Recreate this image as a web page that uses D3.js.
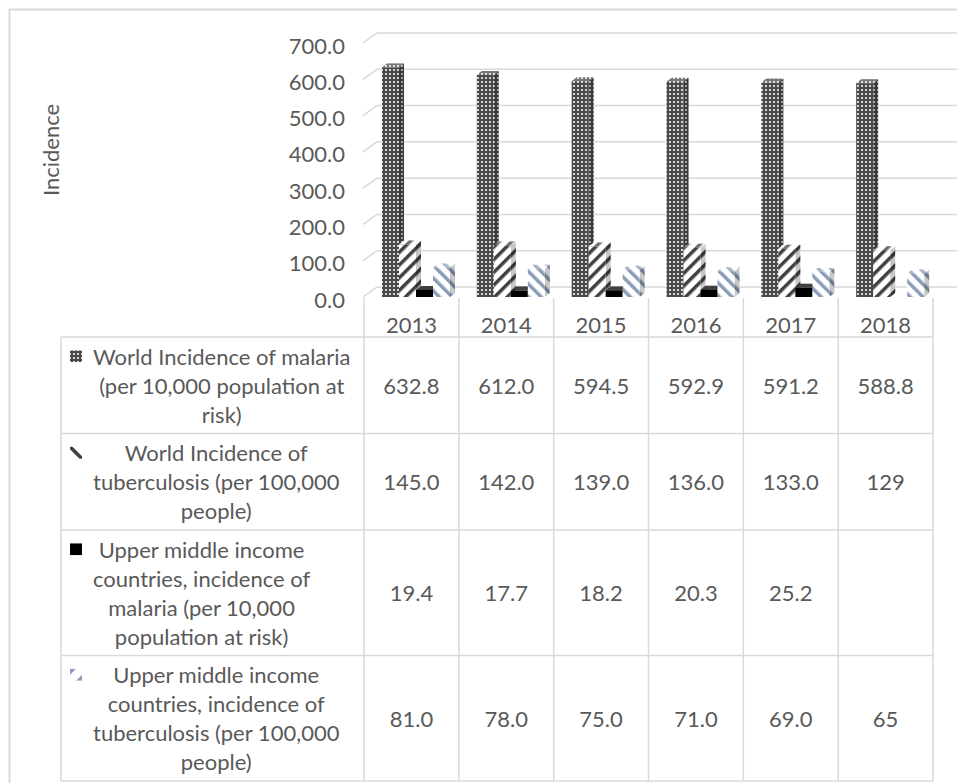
<!DOCTYPE html>
<html>
<head>
<meta charset="utf-8">
<script src="https://cdn.jsdelivr.net/npm/d3@7"></script>
<style>
  html, body { margin: 0; padding: 0; background: #ffffff; }
  svg { display: block; }
  text { font-family: Lato, "Open Sans", sans-serif; fill: #595959; }
</style>
</head>
<body>
<svg id="chart" width="957" height="783"></svg>
<script>
// ---- data ----
const years = ["2013", "2014", "2015", "2016", "2017", "2018"];
const worldMalaria = ["632.8", "612.0", "594.5", "592.9", "591.2", "588.8"];
const worldTB = ["145.0", "142.0", "139.0", "136.0", "133.0", "129"];
const umicMalaria = ["19.4", "17.7", "18.2", "20.3", "25.2", null];
const umicTB = ["81.0", "78.0", "75.0", "71.0", "69.0", "65"];
const yTicks = [0, 100, 200, 300, 400, 500, 600, 700];
const seriesNames = [
  ["World Incidence of malaria", "(per 10,000 population at", "risk)"],
  ["World Incidence of", "tuberculosis (per 100,000", "people)"],
  ["Upper middle income", "countries, incidence of", "malaria (per 10,000", "population at risk)"],
  ["Upper middle income", "countries, incidence of", "tuberculosis (per 100,000", "people)"]
];
const yTitle = "Incidence";

const series = [
  { name: seriesNames[0], text: worldMalaria, fill: "url(#pGrid)" },
  { name: seriesNames[1], text: worldTB, fill: "url(#pUp)" },
  { name: seriesNames[2], text: umicMalaria, fill: "#000000" },
  { name: seriesNames[3], text: umicTB, fill: "url(#pDown)" }
];

// ---- layout ----
const FONT = 22;
const LINE = 29;
const GRID = "#d9d9d9";
const tableLeft = 61, plotLeft = 364, plotRight = 933;
const depth = { dx: 14, dy: -10 };          // back wall offset
const barDepth = { dx: 5, dy: -4 };         // depth of each column
const barW = 17, barStep = 17, barOffset = 18;

const svg = d3.select("#chart");
const defs = svg.append("defs");

// fill patterns
const pg = defs.append("pattern").attr("id", "pGrid").attr("patternUnits", "userSpaceOnUse")
  .attr("width", 4).attr("height", 4);
pg.append("rect").attr("width", 4).attr("height", 4).attr("fill", "#4a4a4a");
pg.append("rect").attr("x", 1).attr("y", 1).attr("width", 2).attr("height", 2).attr("fill", "#d4d4d4");

const pu = defs.append("pattern").attr("id", "pUp").attr("patternUnits", "userSpaceOnUse")
  .attr("width", 9).attr("height", 9).attr("patternTransform", "rotate(45)");
pu.append("rect").attr("width", 9).attr("height", 9).attr("fill", "#ffffff");
pu.append("rect").attr("width", 3.5).attr("height", 9).attr("fill", "#404040");

const pd = defs.append("pattern").attr("id", "pDown").attr("patternUnits", "userSpaceOnUse")
  .attr("width", 9).attr("height", 9).attr("patternTransform", "rotate(-45)");
pd.append("rect").attr("width", 9).attr("height", 9).attr("fill", "#ffffff");
pd.append("rect").attr("width", 3.5).attr("height", 9).attr("fill", "#8a9cb8");

// outer frame
svg.append("rect").attr("x", 9.5).attr("y", 9.5).attr("width", 1000).attr("height", 1000)
  .attr("fill", "none").attr("stroke", GRID).attr("stroke-width", 2);

// scales
const x = d3.scaleBand().domain(years).range([plotLeft, plotRight]).padding(0);
const y = d3.scaleLinear().domain([0, 700]).range([297, 43]);

// gridlines: side wall diagonal + back wall horizontal
const grid = svg.append("g");
yTicks.forEach(t => {
  const fy = y(t);
  grid.append("path")
    .attr("d", `M${plotLeft - 1},${fy} L${plotLeft - 1 + depth.dx},${fy + depth.dy} L${957},${fy + depth.dy}`)
    .attr("fill", "none").attr("stroke", GRID).attr("stroke-width", 1.5);
});

// y tick labels
svg.append("g").selectAll("text").data(yTicks).join("text")
  .attr("x", 345).attr("y", d => y(d) + 2)
  .attr("text-anchor", "end").attr("dominant-baseline", "central")
  .style("font-size", FONT + "px")
  .text(d3.format(".1f"));

// y title
svg.append("text")
  .attr("transform", "translate(50,150) rotate(-90)")
  .attr("text-anchor", "middle").attr("dominant-baseline", "central")
  .style("font-size", FONT + "px")
  .text(yTitle);

// 3D columns
const bars = svg.append("g");
series.forEach((s, si) => {
  years.forEach((yr, i) => {
    if (s.text[i] == null) return;
    const v = +s.text[i];
    const x0 = x(yr) + barOffset + si * barStep;
    const x1 = x0 + barW;
    const yt = y(v), yb = y(0);
    const g = bars.append("g");
    const front = `M${x0},${yb} L${x0},${yt} L${x1},${yt} L${x1},${yb} Z`;
    const side = `M${x1},${yb} L${x1},${yt} L${x1 + barDepth.dx},${yt + barDepth.dy} L${x1 + barDepth.dx},${yb + barDepth.dy} Z`;
    const top = `M${x0},${yt} L${x0 + barDepth.dx},${yt + barDepth.dy} L${x1 + barDepth.dx},${yt + barDepth.dy} L${x1},${yt} Z`;
    g.append("path").attr("d", side).attr("fill", s.fill);
    g.append("path").attr("d", side).attr("fill", "#000").attr("opacity", 0.22);
    g.append("path").attr("d", top).attr("fill", s.fill);
    g.append("path").attr("d", top).attr("fill", "#fff").attr("opacity", 0.25);
    g.append("path").attr("d", front).attr("fill", s.fill);
  });
});

// ---- data table ----
const rowHeights = seriesNames.map(n => n.length * LINE + 9.5);
const rowTops = [337];
rowHeights.forEach(h => rowTops.push(rowTops[rowTops.length - 1] + h));
const tableBottom = rowTops[rowTops.length - 1];

const table = svg.append("g");
// vertical lines of the year columns
d3.range(years.length + 1).forEach(k => {
  const xx = plotLeft + k * x.bandwidth();
  table.append("line").attr("x1", xx).attr("x2", xx).attr("y1", 298).attr("y2", tableBottom)
    .attr("stroke", GRID).attr("stroke-width", 1.5);
});
// legend column left edge
table.append("line").attr("x1", tableLeft).attr("x2", tableLeft).attr("y1", rowTops[0]).attr("y2", tableBottom)
  .attr("stroke", GRID).attr("stroke-width", 1.5);
// horizontal lines
rowTops.forEach(ty => {
  table.append("line").attr("x1", tableLeft).attr("x2", plotRight).attr("y1", ty).attr("y2", ty)
    .attr("stroke", GRID).attr("stroke-width", 1.5);
});

// year header
table.selectAll("text.year").data(years).join("text").attr("class", "year")
  .attr("x", d => x(d) + x.bandwidth() / 2).attr("y", 324)
  .attr("text-anchor", "middle").attr("dominant-baseline", "central")
  .style("font-size", FONT + "px").text(d => d);

// rows
series.forEach((s, si) => {
  const top = rowTops[si], h = rowHeights[si];
  const cy = top + h / 2;
  // values
  years.forEach((yr, i) => {
    if (s.text[i] == null) return;
    table.append("text")
      .attr("x", x(yr) + x.bandwidth() / 2).attr("y", cy)
      .attr("text-anchor", "middle").attr("dominant-baseline", "central")
      .style("font-size", FONT + "px").text(s.text[i]);
  });
  // legend label
  const n = s.name.length;
  const firstY = cy - (n - 1) / 2 * LINE;
  const lbl = table.append("g");
  const lines = lbl.selectAll("text").data(s.name).join("text")
    .attr("y", (d, j) => firstY + j * LINE)
    .attr("text-anchor", "middle").attr("dominant-baseline", "central")
    .style("font-size", FONT + "px").text(d => d);
  let maxW = 0;
  lines.each(function () { maxW = Math.max(maxW, this.getComputedTextLength()); });
  lines.attr("x", 93 + maxW / 2);
  // legend key
  const kx = 70, ky = firstY - 6, ks = 12;
  const clipId = "kc" + si;
  defs.append("clipPath").attr("id", clipId).append("rect")
    .attr("x", kx).attr("y", ky).attr("width", ks).attr("height", ks);
  const key = table.append("g").attr("clip-path", `url(#${clipId})`);
  if (si === 0) {
    key.append("rect").attr("x", kx).attr("y", ky).attr("width", ks).attr("height", ks).attr("fill", s.fill);
  } else if (si === 1) {
    key.append("line").attr("x1", kx).attr("y1", ky).attr("x2", kx + ks).attr("y2", ky + ks)
      .attr("stroke", "#404040").attr("stroke-width", 3.5);
  } else if (si === 2) {
    key.append("rect").attr("x", kx).attr("y", ky).attr("width", ks).attr("height", ks).attr("fill", s.fill);
  } else {
    key.append("path").attr("d", `M${kx},${ky} L${kx + 6},${ky} L${kx},${ky + 6} Z M${kx + ks},${ky + ks} L${kx + ks - 6},${ky + ks} L${kx + ks},${ky + ks - 6} Z`)
      .attr("fill", "#8a9cb8");
  }
});
</script>
</body>
</html>
